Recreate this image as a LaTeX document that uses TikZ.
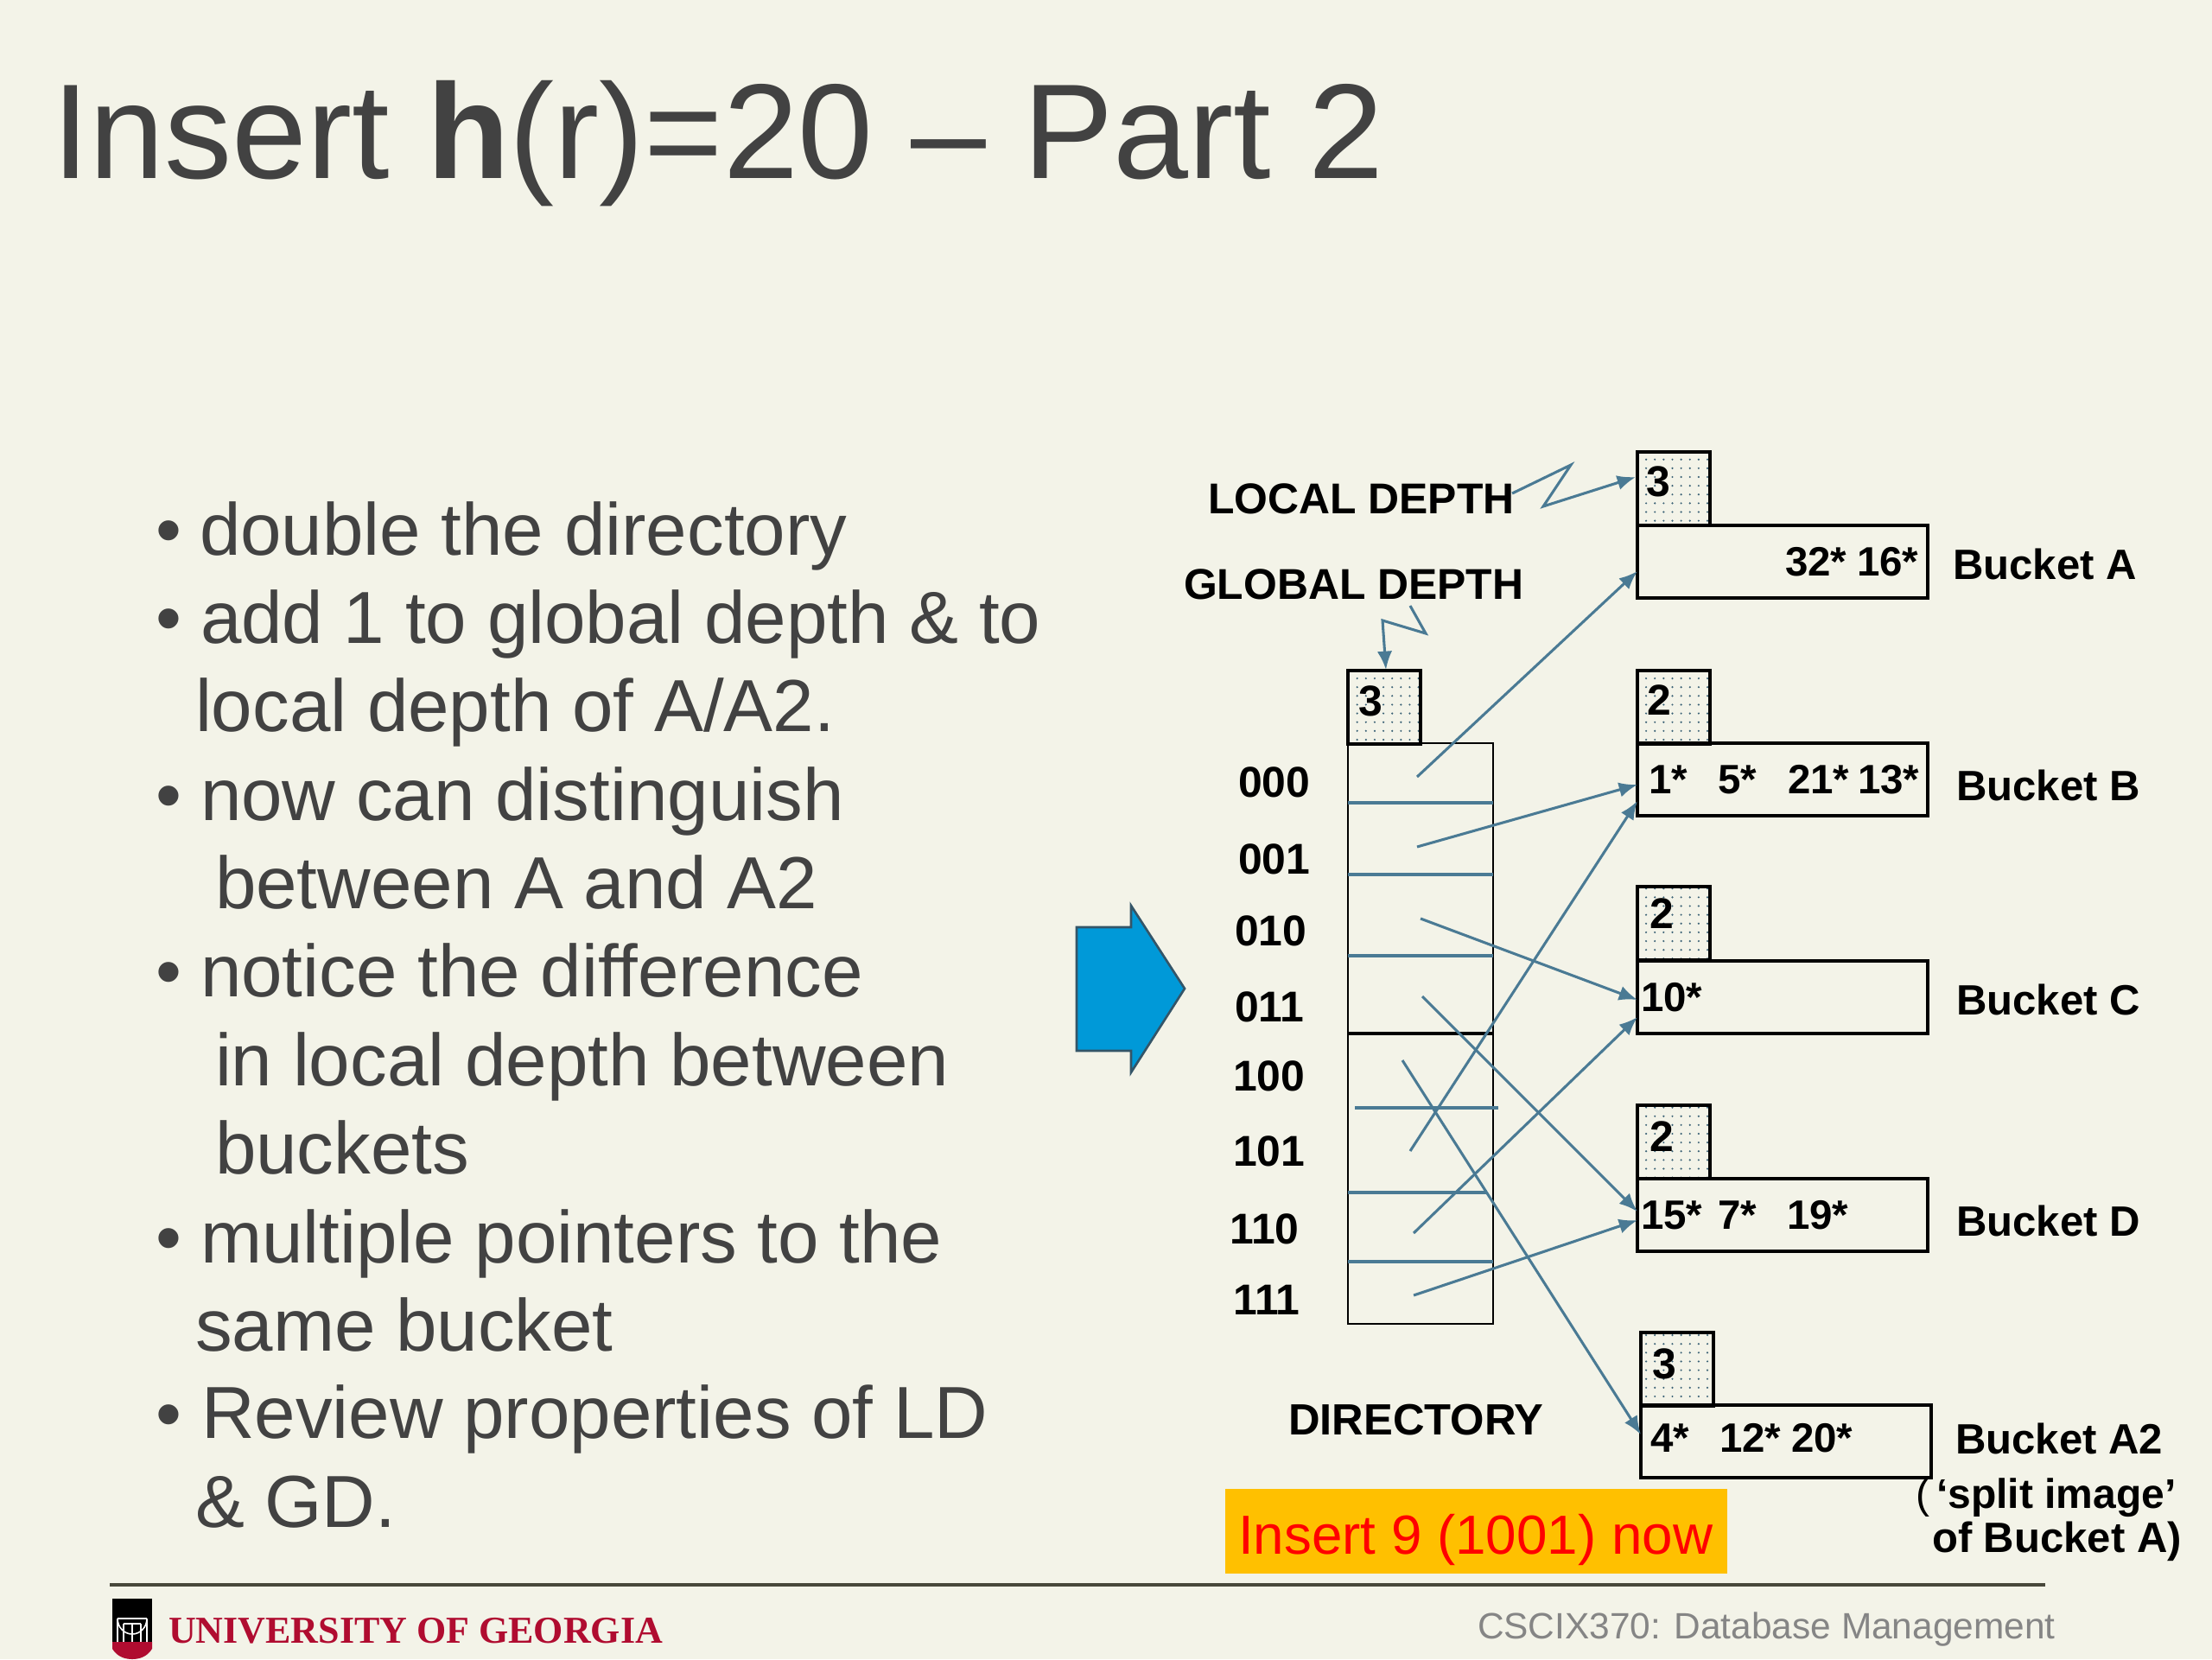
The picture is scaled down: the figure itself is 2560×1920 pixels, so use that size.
\documentclass[tikz,border=0pt]{standalone}
\usepackage{fontspec}
\setmainfont{Liberation Sans}
\newfontfamily\ugafont{Liberation Serif}
\usetikzlibrary{arrows.meta,patterns.meta}
\definecolor{slidebg}{HTML}{F3F3E8}
\definecolor{slidetext}{HTML}{424242}
\definecolor{linkblue}{HTML}{4A7A94}
\definecolor{ugared}{HTML}{B00C30}
\definecolor{bigblue}{HTML}{0099D8}
\definecolor{calloutfill}{HTML}{FFC000}
\newlength{\pxu}\setlength{\pxu}{0.375pt}
\tikzset{
  x=0.375pt,y=-0.375pt,
  txt/.style={inner sep=0pt,outer sep=0pt,anchor=base west},
  titletxt/.style={txt,text=slidetext,font=\fontsize{58.6}{60}\selectfont},
  bullettxt/.style={txt,text=slidetext,font=\fontsize{32}{36}\selectfont},
  lab/.style={txt,text=black,font=\fontsize{18.7}{20}\selectfont\bfseries},
  bucketlab/.style={txt,text=black,font=\fontsize{18.4}{20}\selectfont\bfseries},
  val/.style={txt,text=black,font=\fontsize{17.8}{20}\selectfont\bfseries},
  depthbox/.style={anchor=north west,inner sep=0pt,outer sep=0pt,draw=black,line width=1.2pt,
    minimum width=84\pxu,minimum height=85\pxu,
    pattern={Dots[radius=0.45pt,distance=3.8pt,angle=0]},pattern color=linkblue!80!black},
  bucketbox/.style={anchor=north west,inner sep=0pt,outer sep=0pt,draw=black,line width=1.2pt,
    minimum width=336\pxu,minimum height=84\pxu},
  dirbox/.style={anchor=north west,inner sep=0pt,outer sep=0pt,draw=black,line width=1.1pt,
    minimum width=168\pxu,minimum height=335\pxu},
  link/.style={draw=linkblue,line width=1.15pt,-{Latex[length=8pt,width=6.5pt]},line join=miter},
  slot/.style={draw=linkblue,line width=1.4pt},
}
\begin{document}
\begin{tikzpicture}
\useasboundingbox (0,0) rectangle (2560,1920);
\fill[slidebg] (0,0) rectangle (2560,1920);

% title
\node[titletxt] (title) at (60,206) {Insert \textbf{h}(r)=20 – Part 2};

% bullets
\foreach \nm/\yy in {b1/642,b2/744,b4/949,b6/1153,b9/1461,b11/1665}
  \node[bullettxt] (\nm) at (180,\yy) {•};
\node[bullettxt] (t1) at (231,642) {double the directory};
\node[bullettxt] (t2) at (232,744) {add 1 to global depth \& to};
\node[bullettxt] (t3) at (226,846) {local depth of A/A2.};
\node[bullettxt] (t4) at (232,949) {now can distinguish};
\node[bullettxt] (t5) at (249,1051) {between A and A2};
\node[bullettxt] (t6) at (232,1153) {notice the difference};
\node[bullettxt] (t7) at (249,1256) {in local depth between};
\node[bullettxt] (t8) at (249,1358) {buckets};
\node[bullettxt] (t9) at (232,1461) {multiple pointers to the};
\node[bullettxt] (t10) at (226,1563) {same bucket};
\node[bullettxt] (t11) at (233,1664) {Review properties of LD};
\node[bullettxt] (t12) at (226,1767) {\& GD.};

% big arrow
\draw[fill=bigblue,draw=linkblue!70!black,line width=1pt]
  (1246,1073) -- (1309,1073) -- (1309,1048) -- (1371,1144) -- (1309,1241) -- (1309,1216) -- (1246,1216) -- cycle;

% depth boxes
\node[depthbox] (dA) at (1895,523) {};
\node[depthbox] (dG) at (1560,776) {};
\node[depthbox] (dB) at (1895,776) {};
\node[depthbox] (dC) at (1895,1026) {};
\node[depthbox] (dD) at (1895,1279) {};
\node[depthbox] (dE) at (1899,1542) {};

% buckets
\node[bucketbox] (bA) at (1895,608) {};
\node[bucketbox] (bB) at (1895,860) {};
\node[bucketbox] (bC) at (1895,1112) {};
\node[bucketbox] (bD) at (1895,1364) {};
\node[bucketbox] (bE) at (1899,1626) {};

% directory
\node[dirbox] (dirtop) at (1560,860) {};
\node[dirbox] (dirbot) at (1560,1197) {};
\draw[slot] (1560,929) -- (1728,929);
\draw[slot] (1560,1012) -- (1728,1012);
\draw[slot] (1560,1106) -- (1728,1106);
\draw[slot] (1568,1282) -- (1734,1282);
\draw[slot] (1560,1380) -- (1720,1380);
\draw[slot] (1560,1460) -- (1728,1460);

% depth digits
\node[lab] (nA) at (1905,574) {3};
\node[lab] (nG) at (1572,828) {3};
\node[lab] (nB) at (1906,827) {2};
\node[lab] (nC) at (1909,1074) {2};
\node[lab] (nD) at (1909,1332) {2};
\node[lab] (nE) at (1912,1595) {3};

% bucket contents
\node[val] (vA1) at (2066,666) {32*};
\node[val] (vA2) at (2149,666) {16*};
\node[val] (vB1) at (1908,918) {1*};
\node[val] (vB2) at (1988,918) {5*};
\node[val] (vB3) at (2069,918) {21*};
\node[val] (vB4) at (2150,918) {13*};
\node[val] (vC1) at (1899,1170) {10*};
\node[val] (vD1) at (1899,1422) {15*};
\node[val] (vD2) at (1988,1422) {7*};
\node[val] (vD3) at (2068,1422) {19*};
\node[val] (vE1) at (1910,1680) {4*};
\node[val] (vE2) at (1990,1680) {12*};
\node[val] (vE3) at (2073,1680) {20*};

% labels
\node[lab] (local) at (1398,594) {LOCAL DEPTH};
\node[lab] (global) at (1370,693) {GLOBAL DEPTH};
\node[lab,font=\fontsize{19}{20}\selectfont\bfseries] (dirlab) at (1491,1660) {DIRECTORY};
\node[bucketlab] (lA) at (2260,670) {Bucket A};
\node[bucketlab] (lB) at (2264,926) {Bucket B};
\node[bucketlab] (lC) at (2264,1174) {Bucket C};
\node[bucketlab] (lD) at (2264,1430) {Bucket D};
\node[bucketlab] (lE) at (2263,1682) {Bucket A2};
\node[bucketlab,font=\fontsize{18}{20}\selectfont\bfseries] (lE2) at (2217,1745) {\textmd{(}\,`split image'};
\node[bucketlab] (lE3) at (2236,1796) {of Bucket A)};

\node[lab] (k0) at (1433,922) {000};
\node[lab] (k1) at (1433,1011) {001};
\node[lab] (k2) at (1429,1094) {010};
\node[lab] (k3) at (1429,1182) {011};
\node[lab] (k4) at (1427,1262) {100};
\node[lab] (k5) at (1427,1349) {101};
\node[lab] (k6) at (1423,1439) {110};
\node[lab] (k7) at (1427,1521) {111};

% connector ends
\coordinate (s0) at (1640,899);
\coordinate (s1) at (1640,980);
\coordinate (s2) at (1644,1063);
\coordinate (s3) at (1646,1153);
\coordinate (s4) at (1623,1227);
\coordinate (s5) at (1632,1332);
\coordinate (s6) at (1636,1427);
\coordinate (s7) at (1636,1499);
\coordinate (e0) at (1895,661);
\coordinate (e1) at (1895,908);
\coordinate (e2) at (1895,1157);
\coordinate (e3) at (1895,1402);
\coordinate (e4) at (1899,1660);
\coordinate (e5) at (1895,927);
\coordinate (e6) at (1895,1177);
\coordinate (e7) at (1895,1412);
\draw[link] (s0) -- (e0);
\draw[link] (s1) -- (e1);
\draw[link] (s2) -- (e2);
\draw[link] (s3) -- (e3);
\draw[link] (s4) -- (e4);
\draw[link] (s5) -- (e5);
\draw[link] (s6) -- (e6);
\draw[link] (s7) -- (e7);

% zigzag pointers
\coordinate (z1a) at (1750,571);
\coordinate (z1b) at (1818,538);
\coordinate (z1c) at (1786,586);
\coordinate (z1d) at (1893,552);
\coordinate (z2a) at (1632,701);
\coordinate (z2b) at (1650,733);
\coordinate (z2c) at (1600,718);
\coordinate (z2d) at (1604,775);
\draw[link] (z1a) -- (z1b) -- (z1c) -- (z1d);
\draw[link] (z2a) -- (z2b) -- (z2c) -- (z2d);

% callout
\node[anchor=north west,inner sep=0pt,outer sep=0pt,fill=calloutfill,
  minimum width=581\pxu,minimum height=98\pxu] (callout) at (1418,1723) {};
\node[txt,text=red,font=\fontsize{23.9}{28}\selectfont] (callouttxt) at (1433,1798) {Insert 9 (1001) now};

% footer
\draw[draw=slidetext!90!olive,line width=1.5pt] (127,1834) -- (2367,1834);
\node[txt,text=black!48,font=\fontsize{15.9}{18}\selectfont] (course) at (1710,1896) {CSCIX370: Database Management};
\node[txt,text=ugared,font=\ugafont\bfseries\fontsize{16.5}{18}\selectfont] (uga) at (195,1901) {UNIVERSITY OF GEORGIA};

% logo
\fill[black] (130,1850) rectangle (176,1902);
\fill[ugared] (130,1900) -- (176,1900) -- (176,1908) .. controls (170,1918) and (160,1920) .. (153,1920) .. controls (146,1920) and (136,1918) .. (130,1908) -- cycle;
\draw[white,line width=0.6pt] (136,1900) -- (136,1873) arc[start angle=180,end angle=0,x radius=17,y radius=18] -- (170,1900);
\draw[white,line width=0.6pt] (136,1873) -- (170,1873);
\draw[white,line width=0.6pt] (143,1879) -- (163,1879);
\draw[white,line width=0.9pt] (153,1879) -- (153,1900);
\draw[white,line width=0.6pt] (143,1879) -- (143,1900);
\draw[white,line width=0.6pt] (163,1879) -- (163,1900);
\end{tikzpicture}
\end{document}
